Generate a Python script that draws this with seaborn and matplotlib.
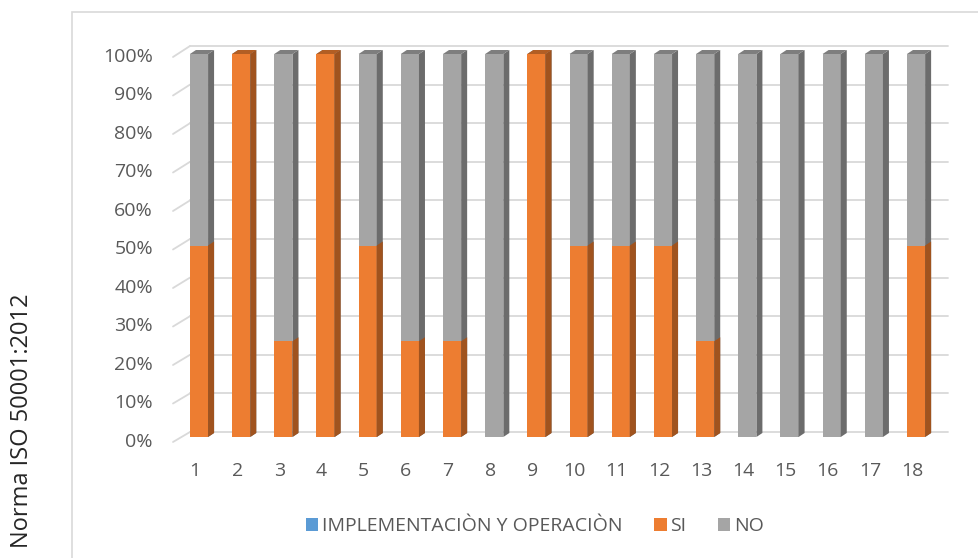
import matplotlib
matplotlib.use("Agg")
import matplotlib.pyplot as plt
from matplotlib.patches import Polygon, Rectangle, Patch
from matplotlib.lines import Line2D
from matplotlib.transforms import IdentityTransform
import pandas as pd
import seaborn as sns

# ---- data -------------------------------------------------------------
categories = [str(i) for i in range(1, 19)]
implementacion = [0] * 18
si_values = [50, 100, 25, 100, 50, 25, 25, 0, 100, 50, 50, 50, 25, 0, 0, 0, 0, 50]
no_values = [50, 0, 75, 0, 50, 75, 75, 100, 0, 50, 50, 50, 75, 100, 100, 100, 100, 50]
y_ticks = [0, 10, 20, 30, 40, 50, 60, 70, 80, 90, 100]
y_tick_labels = [f"{v}%" for v in y_ticks]
series_names = ["IMPLEMENTACIÒN Y OPERACIÒN", "SI", "NO"]
axis_title = "Norma ISO 50001:2012"

# ---- style ------------------------------------------------------------
BLUE, ORANGE, GRAY = "#5B9BD5", "#ED7D31", "#A5A5A5"
ORANGE_SIDE, ORANGE_TOP = "#A0531E", "#B25E24"
GRAY_SIDE, GRAY_TOP = "#6C6C6C", "#7E7E7E"
GRID = "#D9D9D9"
TEXT = "#595959"

sns.set_theme(style="white")
plt.rcParams["font.family"] = ["Open Sans", "DejaVu Sans"]

W, H = 979, 558
fig = plt.figure(figsize=(W / 100, H / 100), dpi=100)
fig.patch.set_facecolor("white")

# axes = front plane of the columns
ax = fig.add_axes([181.5 / W, (H - 437) / H, (939.5 - 181.5) / W, (437 - 54) / H])
ax.patch.set_visible(False)

df = pd.DataFrame({
    "cat": categories,
    "impl": implementacion,
    "si": si_values,
    "total": [a + b + c for a, b, c in zip(implementacion, si_values, no_values)],
})

# stacked columns: full stack in grey, SI drawn over it
sns.barplot(data=df, x="cat", y="total", color=GRAY, width=0.43, ax=ax,
            saturation=1, edgecolor="none", zorder=3)
n_gray = len(ax.patches)
sns.barplot(data=df, x="cat", y="si", color=ORANGE, width=0.43, ax=ax,
            saturation=1, edgecolor="none", zorder=3)
gray_bars = ax.patches[:n_gray]
orange_bars = ax.patches[n_gray:]

ax.set_xlim(-0.415, 17.556)
ax.set_ylim(0, 100)
ax.set_axis_off()

ID = IdentityTransform()
DX, DY = 6, 4  # depth of the columns in pixels


def to_disp(x, y):
    return ax.transData.transform((x, y))


def add_depth(bar, side_c, top_c, with_top):
    if bar.get_height() <= 0:
        return
    x0, y0 = to_disp(bar.get_x(), bar.get_y())
    x1, y1 = to_disp(bar.get_x() + bar.get_width(), bar.get_y() + bar.get_height())
    side = Polygon([(x1, y0), (x1 + DX, y0 + DY), (x1 + DX, y1 + DY), (x1, y1)],
                   closed=True, transform=ID, facecolor=side_c, edgecolor="none",
                   zorder=3, clip_on=False)
    ax.add_patch(side)
    if with_top:
        top = Polygon([(x0, y1), (x0 + DX, y1 + DY), (x1 + DX, y1 + DY), (x1, y1)],
                      closed=True, transform=ID, facecolor=top_c, edgecolor="none",
                      zorder=3, clip_on=False)
        ax.add_patch(top)


for gb, ob in zip(gray_bars, orange_bars):
    add_depth(gb, GRAY_SIDE, GRAY_TOP, True)
    add_depth(ob, ORANGE_SIDE, ORANGE_TOP, ob.get_height() >= gb.get_height())

# back wall gridlines and floor-side diagonals
for v, lab in zip(y_ticks, y_tick_labels):
    _, yf = to_disp(0, v)
    y_back = yf * 1.00783 + 4.05
    y_front = yf * 1.00522 - 5.63
    ax.add_line(Line2D([190, 948], [y_back, y_back], transform=ID, color=GRID,
                       lw=1.3, zorder=1, clip_on=False))
    ax.add_line(Line2D([173, 190], [y_front, y_back], transform=ID, color=GRID,
                       lw=1.3, zorder=1, clip_on=False))
    ax.text(153, y_front, lab, transform=ID, ha="right", va="center",
            fontsize=14, color=TEXT, clip_on=False)

# category labels under the floor
for i, c in enumerate(categories):
    xd, _ = to_disp(i, 0)
    ax.text(xd - 4, H - 471, c, transform=ID, ha="center", va="center",
            fontsize=14, color=TEXT, clip_on=False)

# vertical title
fig.text(22 / W, (H - 421) / H, axis_title, rotation=90, ha="center", va="center",
         fontsize=17, color="#262626")

# chart frame
fig.add_artist(Rectangle((72 / W, -0.1), 1.2, (H - 12) / H + 0.1,
                         transform=fig.transFigure, facecolor="none",
                         edgecolor=GRID, lw=1.2))

handles = [Patch(facecolor=c, edgecolor="none") for c in (BLUE, ORANGE, GRAY)]
fig.legend(handles, series_names, loc="center", bbox_to_anchor=(535 / W, (H - 526) / H),
           ncol=3, frameon=False, fontsize=14, handlelength=0.65, handleheight=0.65,
           handletextpad=0.2, columnspacing=1.6, labelcolor=TEXT)

fig.savefig("out.png", dpi=100)
